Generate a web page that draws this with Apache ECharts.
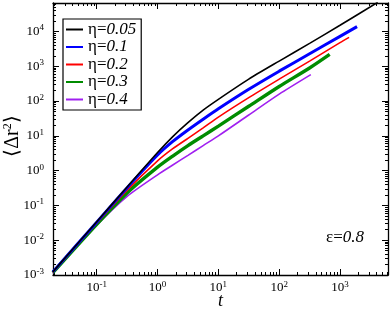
<!DOCTYPE html>
<html><head><meta charset="utf-8">
<script src="https://cdn.jsdelivr.net/npm/echarts@6/dist/echarts.min.js"></script>
<style>html,body{margin:0;padding:0;background:#fff}#c{width:390px;height:309px}</style>
</head><body><div id="c"></div>
<script>
// ---- data (t, <Δr²>) ----
const etaLabels = ['0.05', '0.1', '0.2', '0.3', '0.4'];
const t_005   = [0.019, 0.1, 0.316, 1, 1.78, 3.16, 5.62, 10, 31.6, 100, 316, 1000, 4170];
const msd_005 = [1.23e-3, 0.0339, 0.339, 3.31, 9.55, 24.0, 55.0, 112, 427, 1413, 4571, 15100, 69200];
const t_01    = [0.019, 0.1, 0.316, 1, 1.78, 3.16, 5.62, 10, 31.6, 100, 316, 1000, 1905];
const msd_01  = [1.23e-3, 0.0331, 0.324, 2.82, 6.92, 14.8, 30.2, 60.3, 219, 724, 2291, 7244, 13800];
const t_02    = [0.019, 0.1, 0.316, 1, 1.78, 3.16, 5.62, 10, 31.6, 100, 316, 1000, 1410];
const msd_02  = [1.20e-3, 0.0309, 0.275, 1.91, 4.27, 8.51, 17.0, 34.7, 126, 427, 1413, 4786, 6760];
const t_03    = [0.019, 0.1, 0.316, 1, 1.78, 3.16, 5.62, 10, 31.6, 100, 316, 676];
const msd_03  = [1.17e-3, 0.0288, 0.229, 1.26, 2.63, 5.25, 10.0, 19.1, 70.8, 263, 891, 2188];
const t_04    = [0.019, 0.1, 0.316, 1, 1.78, 3.16, 5.62, 10, 31.6, 100, 331];
const msd_04  = [1.12e-3, 0.0269, 0.182, 0.759, 1.45, 2.75, 5.25, 10.0, 39.8, 158, 575];
const xTickExponents = [-1, 0, 1, 2, 3];
const yTickExponents = [-3, -2, -1, 0, 1, 2, 3, 4];
const xRange = [0.0191, 6150];
const yRange = [0.001, 66000];
const epsilonLabel = '0.8';

// ---- build ----
const L = Math.log10;
const xMin = L(xRange[0]), xMax = L(xRange[1]);
const yMin = L(yRange[0]), yMax = L(yRange[1]);
function minorList(lo, hi) {
  const out = [];
  for (let n = Math.floor(lo) - 1; n <= Math.ceil(hi); n++) {
    for (let k = 2; k <= 9; k++) {
      const v = n + L(k);
      if (v > lo + 1e-6 && v < hi - 1e-6) out.push(v);
    }
  }
  return out;
}
const FONT = '"Liberation Serif", "Times New Roman", serif';
const richPow = {
  b: { fontFamily: FONT, fontSize: 13, color: '#000', lineHeight: 16 },
  s: { fontFamily: FONT, fontSize: 9, color: '#000', verticalAlign: 'top', lineHeight: 9 }
};
const powFmt = v => '{b|10}{s|' + Math.round(v) + '}';

function xAx(pos, major, labels) {
  return {
    type: 'value', position: pos, min: xMin, max: xMax, gridIndex: 0,
    axisLine: { show: major, onZero: false, lineStyle: { color: '#000', width: 1.3 } },
    axisTick: { show: true, inside: true, length: major ? 6 : 3, lineStyle: { color: '#000', width: 1 },
                customValues: major ? xTickExponents : minorList(xMin, xMax) },
    axisLabel: labels ? { show: true, customValues: xTickExponents, formatter: powFmt, rich: richPow, margin: 5 } : { show: false },
    splitLine: { show: false },
    name: labels ? 't' : '', nameLocation: 'middle', nameGap: 17, nameMoveOverlap: false,
    nameTextStyle: { fontFamily: FONT, fontSize: 18, fontStyle: 'italic', color: '#000' }
  };
}
function yAx(pos, major, labels) {
  return {
    type: 'value', position: pos, min: yMin, max: yMax, gridIndex: 0,
    axisLine: { show: major, onZero: false, lineStyle: { color: '#000', width: 1.3 } },
    axisTick: { show: true, inside: true, length: major ? 6 : 3, lineStyle: { color: '#000', width: 1 },
                customValues: major ? yTickExponents : minorList(yMin, yMax) },
    axisLabel: labels ? { show: true, customValues: yTickExponents, formatter: powFmt, rich: richPow, margin: 9 } : { show: false },
    splitLine: { show: false },
    name: labels ? '{a|⟨Δr}{s|2}{a|⟩}' : '', nameLocation: 'middle', nameGap: 29, nameRotate: 90, nameMoveOverlap: false,
    nameTextStyle: { color: '#000', padding: [0, 0, 0, 6], rich: {
      a: { fontFamily: FONT, fontSize: 20, color: '#000', lineHeight: 22 },
      s: { fontFamily: FONT, fontSize: 12, color: '#000', verticalAlign: 'top', lineHeight: 12 } } }
  };
}

const curves = [
  { t: t_005, m: msd_005, color: '#000000', w: 1.6 },
  { t: t_01,  m: msd_01,  color: '#0000ff', w: 3 },
  { t: t_02,  m: msd_02,  color: '#ff0000', w: 1.6 },
  { t: t_03,  m: msd_03,  color: '#008c00', w: 3.4 },
  { t: t_04,  m: msd_04,  color: '#a020f0', w: 1.6 }
];

const option = {
  animation: false,
  backgroundColor: '#fff',
  grid: { left: 53, right: 2, top: 3, bottom: 34, containLabel: false, outerBoundsMode: 'none' },
  xAxis: [xAx('bottom', true, true), xAx('bottom', false, false), xAx('top', true, false), xAx('top', false, false)],
  yAxis: [yAx('left', true, true), yAx('left', false, false), yAx('right', true, false), yAx('right', false, false)],
  legend: {
    orient: 'vertical', left: 63, top: 19,
    borderColor: '#000', borderWidth: 1.2, backgroundColor: '#fff',
    padding: [2, 5, 2, 2], itemGap: 0.5, itemWidth: 17, itemHeight: 10,
    itemStyle: { opacity: 0 },
    data: etaLabels.map(s => 'η=' + s),
    formatter: name => '{e|η=}{n|' + name.slice(2) + '}',
    textStyle: { lineHeight: 17, rich: {
      e: { fontFamily: FONT, fontSize: 17, color: '#000', lineHeight: 17 },
      n: { fontFamily: FONT, fontSize: 17, fontStyle: 'italic', color: '#000', lineHeight: 17 } } }
  },
  title: {
    text: '{e|ε=}{n|' + epsilonLabel + '}', right: 21, top: 224,
    textStyle: { fontWeight: 'normal', rich: {
      e: { fontFamily: FONT, fontSize: 17, fontWeight: 'normal', color: '#000' },
      n: { fontFamily: FONT, fontSize: 17, fontWeight: 'normal', fontStyle: 'italic', color: '#000' } } }
  },
  series: curves.map((c, i) => ({
    name: 'η=' + etaLabels[i], type: 'line', xAxisIndex: 0, yAxisIndex: 0,
    symbol: 'none', smooth: 0.25, clip: true,
    lineStyle: { color: c.color, width: c.w }, itemStyle: { color: c.color },
    data: c.t.map((v, j) => [L(v), L(c.m[j])]),
    z: 10 - i
  }))
};
const chart = echarts.init(document.getElementById('c'), null, { renderer: 'canvas' });
chart.setOption(option);
</script>
</body></html>
